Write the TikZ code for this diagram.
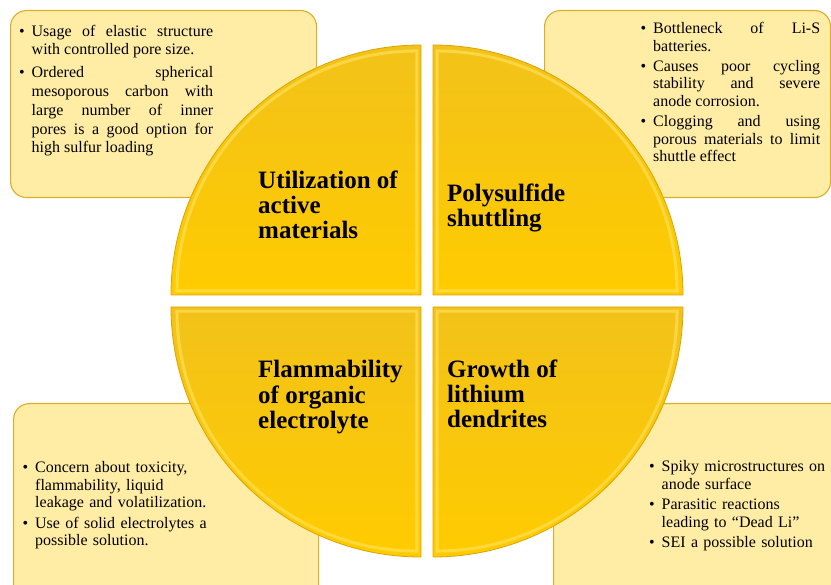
\documentclass[tikz,border=0pt]{standalone}
\usepackage{fontspec}
\setmainfont{Liberation Serif}
\usetikzlibrary{positioning}

\definecolor{quadtop}{RGB}{242,194,26}
\definecolor{quadbot}{RGB}{255,203,0}
\definecolor{quadedge}{RGB}{218,164,0}
\definecolor{quadrim}{RGB}{255,228,96}
\definecolor{boxfill}{RGB}{255,237,166}
\definecolor{boxedge}{RGB}{221,173,42}

% one bullet paragraph, closed with \par
\newcommand{\bitem}{\hangindent=12.5pt\hangafter=1\noindent\makebox[12.5pt][l]{\textbullet}\strut}

\begin{document}
\begin{tikzpicture}[
  x=1pt, y=1pt,
  infobox/.style={draw=boxedge, line width=1.1pt, fill=boxfill, rounded corners=16pt,
    anchor=north west, inner sep=0pt},
  quad/.style={top color=quadtop, bottom color=quadbot, draw=quadedge, line width=0.8pt},
  quadrim/.style={draw=quadrim, line width=3pt, opacity=0.6},
  bodytext/.style={anchor=north west, inner sep=0pt, text width=#1,
    font=\fontsize{16}{17.4}\selectfont\setlength{\parskip}{3pt}},
  heading/.style={anchor=north west, inner sep=0pt, align=left,
    font=\fontsize{25}{25}\selectfont\bfseries}
]
\useasboundingbox (0,0) rectangle (831,-585);
\clip (0,0) rectangle (831,-585);

\node[infobox, minimum width=306pt, minimum height=187pt] (boxTL) at (10,-10) {};
\node[infobox, minimum width=286pt, minimum height=187pt] (boxTR) at (544,-10) {};
\node[infobox, minimum width=305pt, minimum height=200pt] (boxBL) at (13,-403) {};
\node[infobox, minimum width=300pt, minimum height=200pt] (boxBR) at (553,-403) {};

% four quarters of the disc
\foreach \cx/\cy/\a in {421/-295/90, 433/-295/0, 421/-307/180, 433/-307/270}{
  \path[quad] (\cx,\cy) -- ++(\a:250pt) arc[start angle=\a, end angle=\a+90, radius=250pt] -- cycle;
  \draw[quadrim, shift={(\a+45:5.7pt)}] (\cx,\cy) -- ++(\a:240pt)
    arc[start angle=\a, end angle=\a+90, radius=240pt] -- cycle;
}

\node[heading] (hUtil) at (258,-170.5) {\strut Utilization of\\active\\materials};
\node[heading] (hPoly) at (447,-183.5) {\strut Polysulfide\\shuttling};
\node[heading] (hFlam) at (258,-359.5) {\strut Flammability\\of organic\\electrolyte};
\node[heading] (hGrow) at (447,-359.5) {\strut Growth of\\lithium\\dendrites};

\node[bodytext=194pt, align=justify, below right=12.8pt and 9pt of boxTL.north west,
  font=\fontsize{16}{18.8}\selectfont\setlength{\parskip}{4pt}] (tUtil) {%
  \bitem Usage of elastic structure\linebreak with controlled pore size.\par
  \bitem Ordered spherical\linebreak mesoporous carbon with\linebreak large number of inner\linebreak
    pores is a good option for\linebreak high sulfur loading\par};

\node[bodytext=179.5pt, align=justify, below right=11.3pt and 96.5pt of boxTR.north west] (tPoly) {%
  \bitem Bottleneck of Li-S\linebreak batteries.\par
  \bitem Causes poor cycling\linebreak stability and severe\linebreak anode corrosion.\par
  \bitem Clogging and using\linebreak porous materials to limit\linebreak shuttle effect\par};

\node[bodytext=190pt, align=left, below right=57.5pt and 9.5pt of boxBL.north west] (tFlam) {%
  \bitem Concern about toxicity,\newline flammability, liquid\newline leakage and volatilization.\par
  \bitem Use of solid electrolytes a\newline possible solution.\par};

\node[bodytext=183pt, align=left, below right=56.5pt and 96pt of boxBR.north west] (tGrow) {%
  \bitem Spiky microstructures on\newline anode surface\par
  \bitem Parasitic reactions\newline leading to “Dead Li”\par
  \bitem SEI a possible solution\par};
\end{tikzpicture}
\end{document}
